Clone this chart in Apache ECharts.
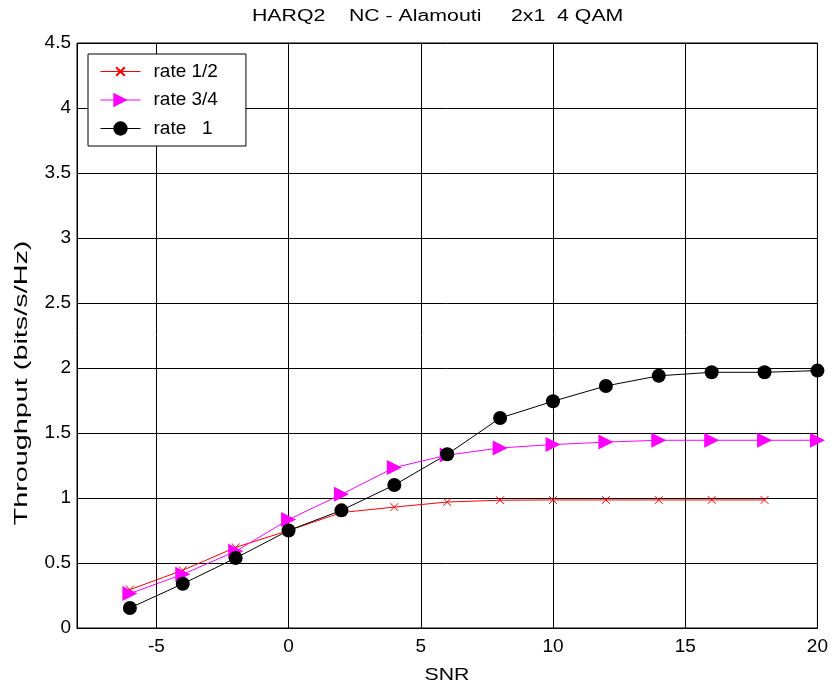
<!DOCTYPE html>
<html>
<head>
<meta charset="utf-8">
<title>HARQ2 NC - Alamouti</title>
<script src="https://cdn.jsdelivr.net/npm/echarts@6/dist/echarts.min.js"></script>
<style>
  html, body { margin: 0; padding: 0; background: #fff; }
  #chart { width: 831px; height: 686px; }
</style>
</head>
<body>
<div id="chart"></div>
<script>
// SNR points (dB)
var snr = [-6, -4, -2, 0, 2, 4, 6, 8, 10, 12, 14, 16, 18, 20];
// throughput per code rate
var rateHalf = [0.295, 0.444, 0.62, 0.75, 0.888, 0.93, 0.969, 0.983, 0.985, 0.985, 0.985, 0.985, 0.985];
var rateThreeQuarter = [0.265, 0.413, 0.59, 0.834, 1.028, 1.234, 1.33, 1.385, 1.411, 1.43, 1.444, 1.444, 1.444, 1.444];
var rateOne = [0.154, 0.34, 0.538, 0.75, 0.905, 1.10, 1.336, 1.615, 1.744, 1.862, 1.94, 1.967, 1.967, 1.98];
var yTicks = [0, 0.5, 1, 1.5, 2, 2.5, 3, 3.5, 4, 4.5];

var font = 'Liberation Sans, Arial, sans-serif';

// pair x with y
function pairs(ys) {
  return ys.map(function (v, i) { return [snr[i], v]; });
}

var chart = echarts.init(document.getElementById('chart'));
chart.setOption({
  backgroundColor: '#fff',
  animation: false,
  grid: {
    left: 77, right: 10, top: 43, bottom: 58,
    show: true, borderColor: '#000', borderWidth: 1
  },
  legend: {
    orient: 'vertical',
    left: 88, top: 54,
    backgroundColor: '#fff',
    borderColor: '#000', borderWidth: 1,
    padding: [8, 28, 8, 12],
    itemWidth: 40, itemHeight: 18, itemGap: 9.5,
    lineStyle: { width: 1 },
    textStyle: { fontFamily: font, fontSize: 19, lineHeight: 18, color: '#000', padding: [0, 0, 0, 8] },
    data: ['rate 1/2', 'rate 3/4', 'rate   1']
  },
  xAxis: {
    type: 'value',
    min: -8, max: 20,
    splitNumber: 6,
    axisLine: { lineStyle: { color: '#000' } },
    axisTick: { inside: true, length: 5, lineStyle: { color: '#000' } },
    axisLabel: {
      fontFamily: font, fontSize: 19, color: '#000', margin: 9,
      formatter: function (v) { return v % 5 === 0 ? String(v) : ''; }
    },
    splitLine: { show: true, lineStyle: { color: '#000', width: 1 } }
  },
  yAxis: {
    type: 'value',
    min: yTicks[0], max: yTicks[yTicks.length - 1],
    interval: 0.5,
    axisLine: { show: true, lineStyle: { color: '#000' } },
    axisTick: { show: true, inside: true, length: 5, lineStyle: { color: '#000' } },
    axisLabel: { fontFamily: font, fontSize: 19, color: '#000', margin: 6 },
    splitLine: { show: true, lineStyle: { color: '#000', width: 1 } }
  },
  // title and axis names, stretched like the original export
  graphic: [
    {
      type: 'text',
      x: 252, y: 17, scaleX: 1.33,
      style: {
        text: 'HARQ2    NC - Alamouti     2x1  4 QAM',
        fontFamily: font, fontSize: 16, fill: '#000',
        textAlign: 'left', textVerticalAlign: 'middle'
      }
    },
    {
      type: 'text',
      x: 447, y: 675, scaleX: 1.25,
      style: {
        text: 'SNR',
        fontFamily: font, fontSize: 17, fill: '#000',
        textAlign: 'center', textVerticalAlign: 'middle'
      }
    },
    {
      type: 'text',
      x: 22, y: 383,
      rotation: Math.PI / 2, scaleX: 1.6,
      style: {
        text: 'Throughput (bits/s/Hz)',
        fontFamily: font, fontSize: 18, fill: '#000',
        textAlign: 'center', textVerticalAlign: 'middle'
      }
    }
  ],
  series: [
    {
      name: 'rate 1/2',
      type: 'line',
      data: pairs(rateHalf),
      // padded cross so the legend icon stays small
      symbol: 'path://M0,0M10,10M2,2L8,8M8,2L2,8',
      symbolSize: 13,
      lineStyle: { color: '#ff0000', width: 1 },
      itemStyle: { color: '#ff0000', borderColor: '#ff0000', borderWidth: 1 }
    },
    {
      name: 'rate 3/4',
      type: 'line',
      data: pairs(rateThreeQuarter),
      symbol: 'triangle',
      symbolRotate: -90,
      symbolSize: 15,
      lineStyle: { color: '#ff00ff', width: 1 },
      itemStyle: { color: '#ff00ff' }
    },
    {
      name: 'rate   1',
      type: 'line',
      data: pairs(rateOne),
      symbol: 'circle',
      symbolSize: 14,
      lineStyle: { color: '#000', width: 1 },
      itemStyle: { color: '#000' }
    }
  ]
});
</script>
</body>
</html>
